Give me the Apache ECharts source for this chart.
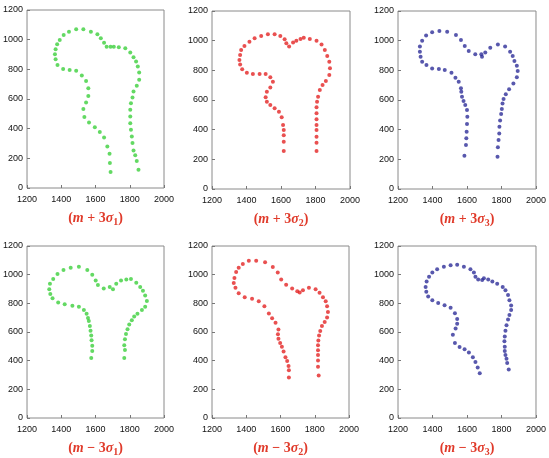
<!DOCTYPE html>
<html>
<head>
<meta charset="utf-8">
<script src="https://cdn.jsdelivr.net/npm/echarts@6/dist/echarts.min.js"></script>
<style>
  html, body { margin: 0; padding: 0; background: #fff; }
  #chart { width: 549px; height: 458px; }
</style>
</head>
<body>
<div id="chart"></div>
<script>
// tick labels shared by all six panels
const xTicks = [1200, 1400, 1600, 1800, 2000];
const yTicks = [0, 200, 400, 600, 800, 1000, 1200];

// (m + 3 sigma_1)
const p1x = [1688,1684,1682,1669,1650,1625,1596,1562,1535,1529,1545,1558,1558,1545,1520,1487,1449,1411,1378,1367,1363,1367,1376,1391,1414,1445,1487,1529,1573,1611,1631,1650,1665,1688,1707,1736,1774,1803,1822,1837,1847,1855,1855,1841,1822,1816,1807,1803,1803,1803,1807,1812,1816,1822,1832,1841,1851];
const p1y = [108,168,231,280,341,377,410,442,478,532,576,621,673,722,758,790,796,803,830,868,902,935,969,998,1032,1054,1070,1070,1054,1036,1009,980,953,953,953,949,942,913,881,852,819,778,729,689,651,610,572,527,482,437,393,348,303,253,220,182,123];

// (m + 3 sigma_2)
const p2x = [1616,1616,1616,1616,1612,1604,1588,1563,1538,1518,1511,1518,1538,1553,1538,1511,1476,1437,1402,1375,1363,1359,1363,1369,1388,1417,1447,1485,1524,1563,1596,1621,1631,1647,1670,1689,1713,1732,1767,1806,1835,1854,1868,1880,1884,1880,1860,1841,1825,1815,1809,1806,1806,1806,1806,1806,1806,1806,1806];
const p2y = [256,319,362,398,431,483,521,544,566,589,618,656,685,723,753,775,775,775,784,807,840,870,903,937,964,993,1016,1031,1043,1043,1031,1009,982,960,987,1000,1011,1020,1011,1000,975,937,897,858,814,768,728,701,667,622,589,551,510,470,431,398,353,312,256];

// (m + 3 sigma_3)
const p3x = [1585,1594,1596,1598,1600,1602,1600,1590,1580,1571,1567,1565,1552,1533,1510,1471,1437,1398,1365,1340,1331,1327,1327,1340,1363,1398,1440,1485,1536,1565,1587,1610,1648,1683,1687,1706,1735,1779,1821,1850,1865,1875,1889,1894,1889,1869,1844,1825,1812,1806,1802,1798,1792,1788,1787,1783,1779,1777];
const p3y = [225,297,342,386,438,487,532,566,593,622,656,679,723,750,784,802,809,813,836,858,892,926,960,1000,1034,1056,1065,1060,1038,1004,964,930,908,908,892,921,953,975,960,926,897,863,831,795,753,712,672,638,607,577,539,506,461,420,375,330,281,218];

// (m - 3 sigma_1)
const p4x = [1575,1581,1581,1577,1575,1571,1567,1561,1556,1548,1532,1503,1465,1420,1382,1349,1336,1330,1334,1353,1378,1413,1455,1503,1552,1581,1601,1614,1648,1683,1702,1721,1749,1780,1807,1838,1861,1877,1890,1900,1890,1871,1845,1826,1812,1797,1787,1778,1772,1768,1772,1768];
const p4y = [419,468,504,542,575,609,642,676,698,727,754,776,783,794,805,836,865,899,937,970,1004,1033,1048,1055,1033,999,959,928,903,914,899,937,959,966,970,943,914,888,854,816,776,754,727,709,682,653,620,586,549,508,475,419];

// (m - 3 sigma_2)
const p5x = [1649,1649,1647,1639,1629,1618,1608,1598,1588,1585,1588,1571,1551,1532,1506,1473,1434,1391,1356,1337,1327,1331,1341,1356,1380,1415,1458,1510,1555,1584,1604,1633,1668,1698,1712,1731,1766,1805,1828,1848,1864,1872,1877,1872,1858,1842,1832,1825,1821,1819,1819,1819,1819,1819,1823];
const p5y = [283,334,363,397,424,464,497,524,553,584,618,664,696,729,780,814,832,843,870,908,941,977,1019,1048,1075,1097,1097,1086,1053,1015,966,930,903,885,876,892,908,899,874,843,814,780,740,702,669,642,607,575,540,508,473,439,401,357,297];

// (m - 3 sigma_3)
const p6x = [1674,1662,1649,1634,1611,1586,1557,1530,1518,1534,1543,1543,1530,1505,1470,1433,1399,1375,1364,1360,1366,1380,1399,1427,1466,1505,1543,1582,1620,1640,1649,1665,1688,1698,1723,1747,1775,1807,1823,1838,1846,1856,1856,1846,1838,1829,1823,1819,1817,1819,1819,1823,1829,1833,1842];
const p6y = [312,352,390,424,457,479,495,524,580,624,658,691,731,769,787,803,821,847,881,914,952,986,1015,1037,1055,1066,1070,1055,1037,1015,986,966,963,975,966,952,937,914,892,859,821,785,754,718,687,647,609,569,535,497,468,439,413,384,339];

const panels = [
    { xs: p1x, ys: p1y, color: '#3ccf3c', sign: '+', k: '1', box: [25, 10, 139, 178] },
    { xs: p2x, ys: p2y, color: '#e42424', sign: '+', k: '2', box: [212, 11, 138, 178] },
    { xs: p3x, ys: p3y, color: '#2e2e98', sign: '+', k: '3', box: [398, 11, 139, 178] },
    { xs: p4x, ys: p4y, color: '#3ccf3c', sign: '\u2212', k: '1', box: [26, 246, 138, 179] },
    { xs: p5x, ys: p5y, color: '#e42424', sign: '\u2212', k: '2', box: [212, 246, 137, 180] },
    { xs: p6x, ys: p6y, color: '#2e2e98', sign: '\u2212', k: '3', box: [398, 246, 139, 180] }
];

const tickFont = { fontFamily: 'Liberation Sans', fontSize: 9, color: '#111' };
const nameRich = {
    p: { fontFamily: 'Liberation Serif', fontSize: 14, fontWeight: 'bold', color: '#e03a2a', lineHeight: 17 },
    v: { fontFamily: 'Liberation Serif', fontSize: 14, fontWeight: 'bold', fontStyle: 'italic', color: '#e03a2a', lineHeight: 17 },
    s: { fontFamily: 'Liberation Serif', fontSize: 10, fontWeight: 'bold', color: '#e03a2a', lineHeight: 17, padding: [7, 0, 0, 0] }
};

var grids = [], xAxes = [], yAxes = [], series = [];
panels.forEach(function(p, i) {
    grids.push({
        left: p.box[0], top: p.box[1], width: p.box[2], height: p.box[3],
        show: true, borderColor: '#8a8a8a', borderWidth: 1, backgroundColor: '#fff'
    });
    xAxes.push({
        gridIndex: i, type: 'value', min: xTicks[0], max: xTicks[xTicks.length - 1], interval: 200,
        axisLine: { show: false },
        axisTick: { inside: true, length: 3, lineStyle: { color: '#777' } },
        splitLine: { show: false },
        axisLabel: Object.assign({ margin: 7, formatter: v => String(v) }, tickFont),
        name: '{p|(}{v|m}{p| ' + p.sign + ' 3}{v|\u03c3}{s|' + p.k + '}{p|)}',
        nameLocation: 'middle', nameGap: 22,
        nameTextStyle: { rich: nameRich }
    });
    yAxes.push({
        gridIndex: i, type: 'value', min: yTicks[0], max: yTicks[yTicks.length - 1], interval: 200,
        axisLine: { show: false },
        axisTick: { inside: true, length: 3, lineStyle: { color: '#777' } },
        splitLine: { show: false },
        axisLabel: Object.assign({ margin: 4, formatter: v => String(v) }, tickFont)
    });
    series.push({
        type: 'scatter', xAxisIndex: i, yAxisIndex: i,
        symbol: 'circle', symbolSize: 4,
        itemStyle: { color: p.color },
        data: p.xs.map((x, j) => [x, p.ys[j]])
    });
});

var chart = echarts.init(document.getElementById('chart'));
chart.setOption({
    backgroundColor: '#fff',
    animation: false,
    grid: grids,
    xAxis: xAxes,
    yAxis: yAxes,
    series: series
});
</script>
</body>
</html>
